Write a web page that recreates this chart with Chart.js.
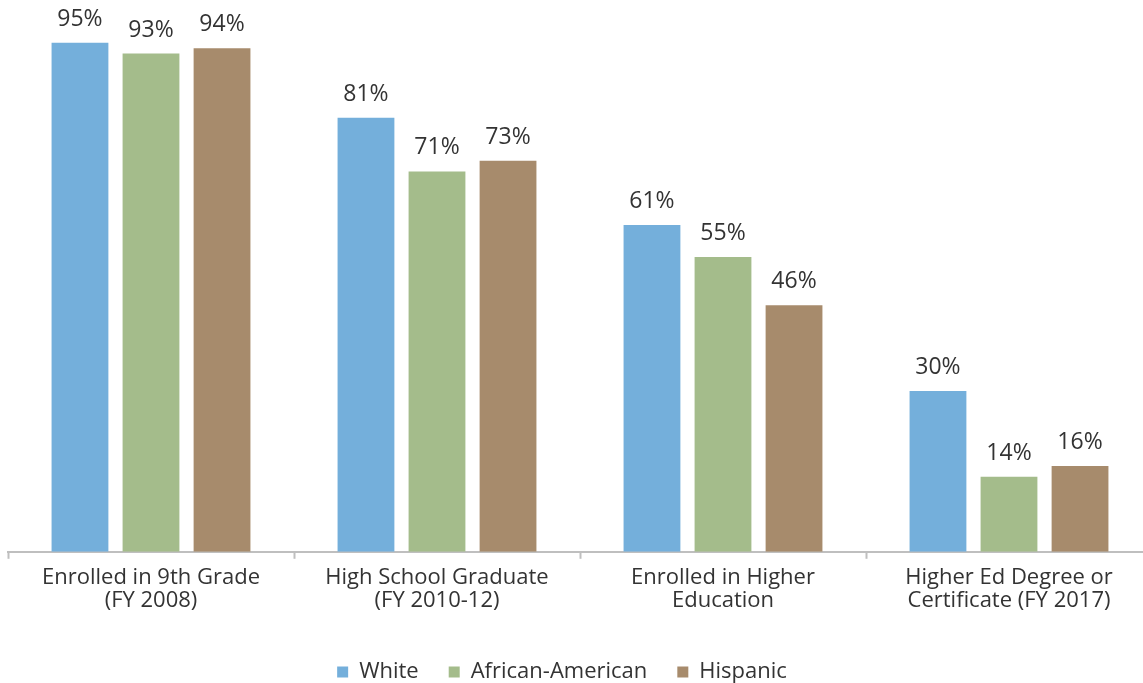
<!DOCTYPE html>
<html>
<head>
<meta charset="utf-8">
<script src="https://cdn.jsdelivr.net/npm/chart.js@4/dist/chart.umd.min.js"></script>
<style>
  html, body { margin: 0; padding: 0; background: #fff; overflow: hidden; }
  #wrap { position: relative; width: 1152px; height: 683px; }
</style>
</head>
<body>
<div id="wrap"><canvas id="chart-bars"></canvas></div>
<script>
  "use strict";

  var CATEGORIES = [
    ['Enrolled in 9th Grade', '(FY 2008)'],
    ['High School Graduate', '(FY 2010-12)'],
    ['Enrolled in Higher', 'Education'],
    ['Higher Ed Degree or', 'Certificate (FY 2017)']
  ];
  var WHITE = [95, 81, 61, 30];
  var AFRICAN_AMERICAN = [93, 71, 55, 14];
  var HISPANIC = [94, 73, 46, 16];

  var FONT = '"Open Sans", "Noto Sans", sans-serif';
  var TEXT_COLOR = '#333333';

  // 棒の上に値ラベルを描く
  var valueLabels = {
    id: 'valueLabels',
    afterDatasetsDraw: function(chart) {
      var ctx = chart.ctx;
      ctx.save();
      ctx.font = '23px ' + FONT;
      ctx.fillStyle = TEXT_COLOR;
      ctx.textAlign = 'center';
      ctx.textBaseline = 'alphabetic';
      chart.data.datasets.forEach(function(ds, i) {
        chart.getDatasetMeta(i).data.forEach(function(bar, j) {
          ctx.fillText(ds.data[j] + '%', bar.x, bar.y - 17);
        });
      });
      ctx.restore();
    }
  };

  // 凡例を少し左へずらす
  var legendShift = {
    id: 'legendShift',
    afterLayout: function(chart) {
      if (!chart.legend) return;
      chart.legend.left -= 18;
      chart.legend.right -= 18;
    }
  };

  var ctx = document.getElementById('chart-bars');
  new Chart(ctx, {
    type: 'bar',
    data: {
      labels: CATEGORIES,
      datasets: [
        { label: 'White', data: WHITE, backgroundColor: '#74afdb' },
        { label: 'African-American', data: AFRICAN_AMERICAN, backgroundColor: '#a4bc8b' },
        { label: 'Hispanic', data: HISPANIC, backgroundColor: '#a78b6c' }
      ]
    },
    options: {
      responsive: true,
      maintainAspectRatio: false,
      animation: false,
      categoryPercentage: 0.745,
      barPercentage: 0.8,
      layout: { padding: { left: 8, right: 0, top: 16, bottom: -10 } },
      plugins: {
        tooltip: { enabled: false },
        legend: {
          position: 'bottom',
          labels: {
            color: TEXT_COLOR,
            font: { family: FONT, size: 22 },
            boxWidth: 11,
            boxHeight: 11,
            padding: 30
          }
        }
      },
      scales: {
        x: {
          border: { display: true, color: '#bfbfbf', width: 2 },
          grid: {
            display: true,
            offset: true,
            drawOnChartArea: false,
            drawTicks: true,
            tickLength: 7,
            tickWidth: 2,
            tickColor: '#bfbfbf'
          },
          ticks: {
            color: TEXT_COLOR,
            font: { family: FONT, size: 22, lineHeight: 1.05 },
            padding: 7,
            maxRotation: 0
          },
          afterFit: function(scale) {
            scale.height += 12;
          }
        },
        y: {
          display: false,
          min: 0,
          max: 100
        }
      }
    },
    plugins: [valueLabels, legendShift]
  });
</script>
</body>
</html>
